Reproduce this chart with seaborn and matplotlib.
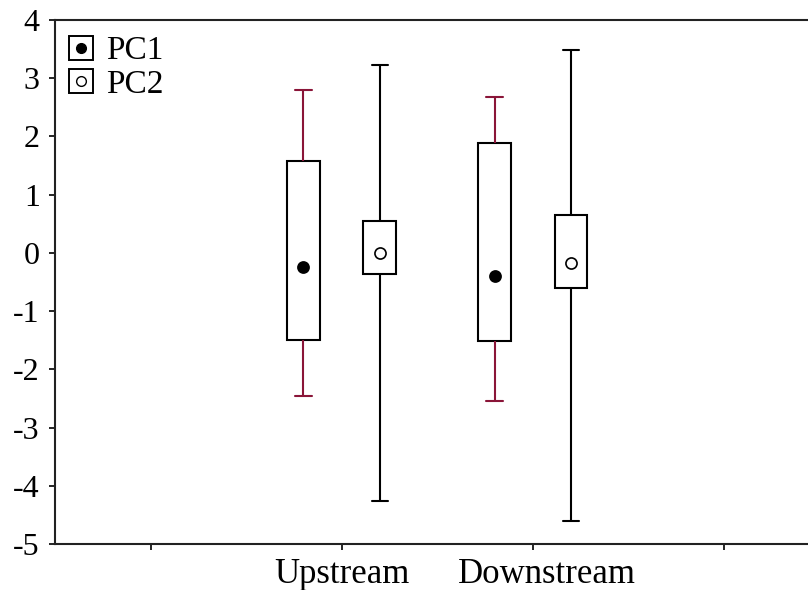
import numpy as np
import pandas as pd
import matplotlib
matplotlib.use("Agg")
import matplotlib.pyplot as plt
from matplotlib.lines import Line2D
from matplotlib.transforms import ScaledTranslation
import seaborn as sns

# values (mean, box = +/- SE-ish band, whiskers = +/- SD-ish band)
sites = ['Upstream', 'Downstream']
components = ['PC1', 'PC2']

# per site, per component: [whisker low, box low, box high, whisker high]
pc1_low = [-2.45, -2.55]
pc1_box_low = [-1.50, -1.52]
pc1_box_high = [1.58, 1.88]
pc1_high = [2.80, 2.67]
pc1_mean = [-0.25, -0.40]

pc2_low = [-4.27, -4.60]
pc2_box_low = [-0.37, -0.60]
pc2_box_high = [0.55, 0.65]
pc2_high = [3.22, 3.48]
pc2_mean = [0.00, -0.17]

ytick_vals = [-5, -4, -3, -2, -1, 0, 1, 2, 3, 4]

# five numbers per box -> seaborn quartiles land exactly on them
rows = []
summary = {
    'PC1': (pc1_low, pc1_box_low, pc1_mean, pc1_box_high, pc1_high),
    'PC2': (pc2_low, pc2_box_low, pc2_mean, pc2_box_high, pc2_high),
}
for pc, cols in summary.items():
    for i, site in enumerate(sites):
        for v in (c[i] for c in cols):
            rows.append({'site': site, 'pc': pc, 'value': v})
box_df = pd.DataFrame(rows)

mean_df = pd.DataFrame({
    'site': sites * 2,
    'pc': ['PC1'] * 2 + ['PC2'] * 2,
    'value': pc1_mean + pc2_mean,
})

sns.set_style('ticks')
plt.rcParams['font.family'] = ['Liberation Serif', 'DejaVu Serif']
plt.rcParams['axes.unicode_minus'] = False

fig = plt.figure(figsize=(8.08, 5.90), dpi=100)
ax = fig.add_axes([55 / 808, 1 - 544 / 590, 1 - 55 / 808, (544 - 20) / 590])

sns.boxplot(data=box_df, x='site', y='value', hue='pc', order=sites, hue_order=components,
            palette={'PC1': 'white', 'PC2': 'white'}, linecolor='black', linewidth=1.5,
            whis=(0, 100), gap=0.57, showfliers=False, legend=False,
            medianprops={'linewidth': 0}, ax=ax)

# PC1 whiskers are drawn in dark red
for container, pc in zip(ax.containers, components):
    if pc == 'PC1':
        for ln in list(container.whiskers) + list(container.caps):
            ln.set_color('#8a1538')

sns.stripplot(data=mean_df, x='site', y='value', hue='pc', order=sites, hue_order=components,
              dodge=True, jitter=False, palette={'PC1': 'black', 'PC2': 'white'},
              edgecolor='black', linewidth=1.2, size=8, legend=False, ax=ax, zorder=5)

ax.set_xlim(-1.5, 2.44)
ax.set_ylim(-5, 4)
ax.set_yticks(ytick_vals)
ax.set_yticklabels([str(v) for v in ytick_vals])
ax.set_xticks([-1, 0, 1, 2])
ax.set_xticklabels(['', 'Upstream', 'Downstream', ''])
ax.set_xlabel('')
ax.set_ylabel('')
ax.tick_params(axis='both', length=4, width=1.2, color='black', labelcolor='black')
ax.tick_params(axis='y', labelsize=23, pad=7)
ax.tick_params(axis='x', labelsize=25, pad=6)

# the Downstream label sits a little right of its tick in the original
lbl = ax.get_xticklabels()[2]
lbl.set_transform(lbl.get_transform() + ScaledTranslation(0.14, 0, fig.dpi_scale_trans))

for side in ['left', 'bottom', 'top']:
    ax.spines[side].set_visible(True)
    ax.spines[side].set_color('#222222')
    ax.spines[side].set_linewidth(1.5)
ax.spines['right'].set_visible(False)

frame = dict(marker='s', markersize=17, markerfacecolor='white', markeredgecolor='black',
             markeredgewidth=1.4, linestyle='none')
handles = [
    (Line2D([], [], **frame), Line2D([], [], marker='o', markersize=7, markerfacecolor='black',
                                     markeredgecolor='black', linestyle='none')),
    (Line2D([], [], **frame), Line2D([], [], marker='o', markersize=7, markerfacecolor='white',
                                     markeredgecolor='black', linestyle='none')),
]
ax.legend(handles, components, loc='upper left', bbox_to_anchor=(-0.014, 1.014), frameon=False,
          fontsize=24, handlelength=0.8, handletextpad=0.35, labelspacing=0.08,
          borderaxespad=0.3, labelcolor='black')

fig.savefig('out.png', dpi=100)
